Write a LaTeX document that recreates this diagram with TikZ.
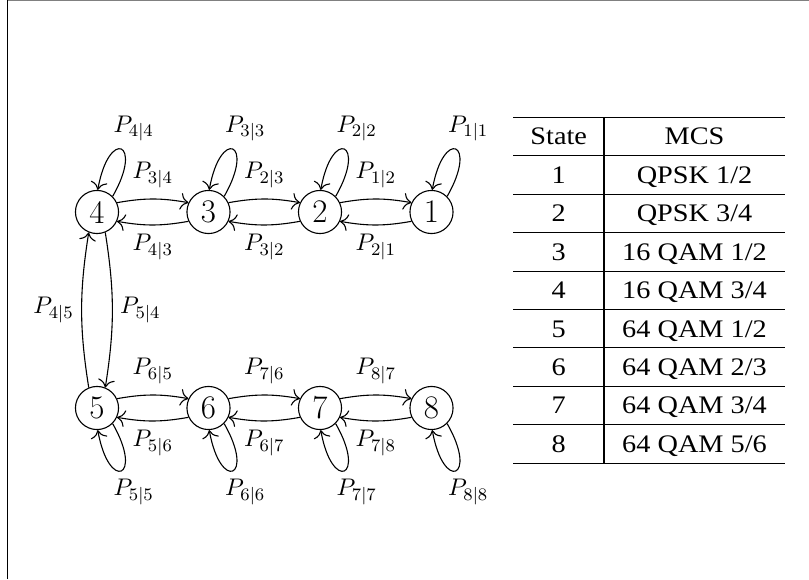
\documentclass[tikz,border=0pt]{standalone}
\usepackage{fontspec}
\newfontfamily\tabfont[FakeStretch=1.12]{Liberation Serif}
\usetikzlibrary{arrows.meta,positioning}
\tikzset{state/.style={circle,draw,minimum size=0.69cm,inner sep=0pt,font=\fontsize{15}{18}\selectfont},prob/.style={font=\fontsize{11}{13}\selectfont},selfup/.style={->,out=60,in=80,looseness=10},selfdown/.style={->,out=-60,in=-80,looseness=10},cell/.style={font=\tabfont\fontsize{11.5}{13}\selectfont,anchor=base},rule/.style={line width=0.5pt}}
\begin{document}
\begin{tikzpicture}[x=0.016cm,y=0.016cm,line width=0.5pt,>={To[scale=1.35]}]
        \useasboundingbox (0,0) rectangle (809,579);
        \draw[gray,line width=0.7pt](7,578.6)--(809,578.6);
        \draw[line width=0.6pt](7.5,0)--(7.5,579);
        % states
        \node[state](s4)at(97,367){4};
        \node[state](s3)at(208.5,367){3};
        \node[state](s2)at(320,367){2};
        \node[state](s1)at(431.5,367){1};
        \node[state](s5)at(97,171){5};
        \node[state](s6)at(208.5,171){6};
        \node[state](s7)at(320,171){7};
        \node[state](s8)at(431.5,171){8};
        % self loops
        \draw[selfup](s4.45)to node[prob,above,xshift=2mm]{$P_{4|4}$}(s4.88);
        \draw[selfup](s3.45)to node[prob,above,xshift=2mm]{$P_{3|3}$}(s3.88);
        \draw[selfup](s2.45)to node[prob,above,xshift=2mm]{$P_{2|2}$}(s2.88);
        \draw[selfup](s1.45)to node[prob,above,xshift=2mm]{$P_{1|1}$}(s1.88);
        \draw[selfdown](s5.-45)to node[prob,below,xshift=2mm]{$P_{5|5}$}(s5.-88);
        \draw[selfdown](s6.-45)to node[prob,below,xshift=2mm]{$P_{6|6}$}(s6.-88);
        \draw[selfdown](s7.-45)to node[prob,below,xshift=2mm]{$P_{7|7}$}(s7.-88);
        \draw[selfdown](s8.-45)to node[prob,below,xshift=2mm]{$P_{8|8}$}(s8.-88);
        % upper row
        \draw[->](s4.25)to[bend left=10]node[prob,above=1.5pt]{$P_{3|4}$}(s3.155);
        \draw[->](s3.25)to[bend left=10]node[prob,above=1.5pt]{$P_{2|3}$}(s2.155);
        \draw[->](s2.25)to[bend left=10]node[prob,above=1.5pt]{$P_{1|2}$}(s1.155);
        \draw[->](s3.205)to[bend left=10]node[prob,below=0.5pt]{$P_{4|3}$}(s4.-25);
        \draw[->](s2.205)to[bend left=10]node[prob,below=0.5pt]{$P_{3|2}$}(s3.-25);
        \draw[->](s1.205)to[bend left=10]node[prob,below=0.5pt]{$P_{2|1}$}(s2.-25);
        % lower row
        \draw[->](s5.25)to[bend left=10]node[prob,above=1.5pt]{$P_{6|5}$}(s6.155);
        \draw[->](s6.25)to[bend left=10]node[prob,above=1.5pt]{$P_{7|6}$}(s7.155);
        \draw[->](s7.25)to[bend left=10]node[prob,above=1.5pt]{$P_{8|7}$}(s8.155);
        \draw[->](s6.205)to[bend left=10]node[prob,below=0.5pt]{$P_{5|6}$}(s5.-25);
        \draw[->](s7.205)to[bend left=10]node[prob,below=0.5pt]{$P_{6|7}$}(s6.-25);
        \draw[->](s8.205)to[bend left=10]node[prob,below=0.5pt]{$P_{7|8}$}(s7.-25);
        % between the rows
        \draw[->](s4.-68)to[bend left=9]node[prob,right]{$P_{5|4}$}(s5.68);
        \draw[->](s5.112)to[bend left=9]node[prob,left]{$P_{4|5}$}(s4.-112);
        % table
        \foreach \k in {0,...,9}
          \draw[rule](513,461.7-38.44*\k)--(785,461.7-38.44*\k);
        \draw[rule](604,461.7)--(604,115.7);
        \node[cell](hstate)at(558.7,434.1){State};
        \node[cell](hmcs)at(694.5,434.1){MCS};
        \foreach \m [count=\i] in {QPSK 1/2,QPSK 3/4,16 QAM 1/2,16 QAM 3/4,64 QAM 1/2,64 QAM 2/3,64 QAM 3/4,64 QAM 5/6}{
          \node[cell](st\i)at(558.7,434.1-38.44*\i){\i};
          \node[cell](mcs\i)at(694.5,434.1-38.44*\i){\m};
        }
      \end{tikzpicture}
\end{document}
